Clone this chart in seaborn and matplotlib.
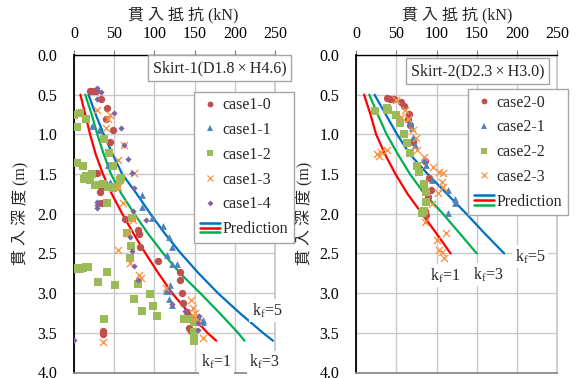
import matplotlib
matplotlib.use("Agg")
import numpy as np
import pandas as pd
import seaborn as sns
import matplotlib.pyplot as plt
from matplotlib.lines import Line2D
from matplotlib.legend_handler import HandlerBase

# ---------------- data: Skirt-1 ----------------
case1_0_x = [20, 24, 27, 34, 41, 40, 49, 45, 29, 34, 32, 33, 63, 80, 81, 82, 105, 132, 132, 134, 136, 140, 144, 143, 146, 36, 36]
case1_0_y = [0.45, 0.45, 0.45, 0.55, 0.67, 0.80, 0.95, 1.09, 1.49, 1.66, 1.72, 1.87, 2.07, 2.20, 2.25, 2.42, 2.60, 2.74, 2.83, 3.00, 3.12, 3.24, 3.30, 3.44, 3.48, 3.48, 3.52]

case1_1_x = [22, 31.5, 42.5, 44.5, 84, 85, 97.5, 111, 118, 122.5, 116, 122.5, 127.5, 119, 114, 118, 122.5, 154.5, 160, 160.5]
case1_1_y = [0.90, 0.95, 1.39, 1.60, 1.77, 1.91, 2.05, 2.15, 2.29, 2.42, 2.52, 2.63, 2.63, 2.90, 2.97, 3.07, 3.15, 3.30, 3.34, 3.37]

case1_2_x = [0, 7.5, 15, 4, 37, 44, 49, 4, 11, 15, 23, 12, 20, 26, 36, 42, 49, 57, 54, 59, 40.5, 72, 66, 71.5, 70,
             0, 3, 7, 11, 15, 18, 41, 30, 51.5, 80, 95, 75, 98.5, 85, 103.5, 37.5, 137, 143, 149, 149, 149, 149]
case1_2_y = [0.75, 0.73, 0.80, 0.91, 1.06, 1.23, 1.40, 1.36, 1.40, 1.53, 1.50, 1.56, 1.58, 1.64, 1.62, 1.66, 1.68, 1.58, 1.66, 1.55, 1.87, 2.05, 2.24, 2.41, 2.56,
             2.70, 2.68, 2.69, 2.68, 2.67, 2.67, 2.73, 2.86, 2.90, 2.88, 3.01, 3.08, 3.16, 3.23, 3.29, 3.33, 3.33, 3.33, 3.36, 3.49, 3.55, 3.60]

case1_3_x = [29, 42.5, 44.5, 39.5, 62.5, 55, 74.5, 55, 60.5, 73.5, 67.5, 55, 69.5, 81, 83, 114, 146, 148, 150, 151, 154, 161, 36]
case1_3_y = [0.69, 0.80, 0.755, 0.92, 1.13, 1.32, 1.49, 1.66, 1.86, 2.08, 2.24, 2.46, 2.62, 2.77, 2.81, 2.94, 3.09, 3.19, 3.25, 3.30, 3.36, 3.57, 3.61]

case1_4_x = [28, 33, 28, 49.5, 59, 62.5, 67.5, 72, 75, 28, 28, 29, 73.5, 89, 69.5, 72.5, 74.5, 80, 119, 122.5, 138, 155.5, 154.5, 154.5, 0]
case1_4_y = [0.41, 0.47, 0.56, 0.735, 0.92, 1.13, 1.31, 1.49, 1.67, 1.85, 1.89, 1.93, 1.96, 2.08, 2.29, 2.47, 2.66, 2.83, 2.99, 3.14, 3.23, 3.29, 3.38, 3.46, 3.59]

pred1_y = [0.5, 0.75, 1.0, 1.25, 1.5, 1.75, 2.0, 2.25, 2.5, 2.75, 3.0, 3.25, 3.5, 3.6]
pred1_kf1 = [8, 14, 20, 27, 36, 47, 60, 74, 89, 105, 122, 143, 166, 177]
pred1_kf3 = [14, 22, 29, 37, 46, 59, 75, 92, 111, 132, 157, 181, 204, 212]
pred1_kf5 = [18, 27, 37, 48, 60, 78, 95, 113, 133, 155, 179, 206, 235, 247.5]

# ---------------- data: Skirt-2 ----------------
case2_0_x = [38, 42, 47, 55.5, 60, 66, 65, 67, 71, 86, 91, 93, 90, 86, 87]
case2_0_y = [0.545, 0.55, 0.55, 0.59, 0.64, 0.74, 0.80, 0.88, 1.09, 1.33, 1.55, 1.70, 1.79, 1.96, 2.02]

case2_1_x = [67, 69, 71, 73, 84.5, 86.5, 94, 114.5, 123, 123, 114]
case2_1_y = [0.85, 0.92, 1.03, 1.13, 1.31, 1.39, 1.57, 1.70, 1.81, 1.86, 1.99]

case2_2_x = [24, 38, 40, 50, 54.5, 59, 63, 67, 75.5, 78.5, 85, 87.5, 87.5, 84.5, 82]
case2_2_y = [0.71, 0.67, 0.69, 0.76, 0.86, 1.00, 1.11, 1.24, 1.40, 1.48, 1.63, 1.72, 1.85, 1.96, 1.99]

case2_3_x = [49.5, 56.5, 60.5, 65, 71, 74, 76, 84.5, 96, 103.5, 108.5, 106.5, 25.5, 28.5, 30.5, 38.5,
             108.5, 102, 94, 86, 112, 101, 103.5, 106.5, 109]
case2_3_y = [0.57, 0.78, 0.69, 0.81, 0.94, 1.05, 1.20, 1.28, 1.41, 1.47, 1.49, 1.60, 1.25, 1.27, 1.22, 1.20,
             1.66, 1.74, 1.88, 2.10, 2.24, 2.33, 2.46, 2.48, 2.56]

pred2_y = [0.5, 0.75, 1.0, 1.25, 1.5, 1.75, 2.0, 2.25, 2.5]
pred2_kf1 = [10, 18, 25, 36, 49, 64, 82, 100, 117.5]
pred2_kf3 = [16.5, 27, 38, 52, 67, 85, 108, 129, 150]
pred2_kf5 = [23, 37, 51, 67, 89, 113, 137, 160, 184]

x_ticks = [0, 50, 100, 150, 200, 250]
y_ticks = [0.0, 0.5, 1.0, 1.5, 2.0, 2.5, 3.0, 3.5, 4.0]

# ---------------- styling ----------------
sns.set_theme(style="white")
plt.rcParams["font.family"] = ["Liberation Serif", "Noto Sans CJK JP"]
plt.rcParams["mathtext.default"] = "regular"

C_RED = "#C0504D"
C_BLUE = "#4F81BD"
C_GREEN = "#9BBB59"
C_ORANGE = "#F79646"
C_PURPLE = "#8064A2"
L_RED, L_GREEN, L_BLUE = "#FF0000", "#00B050", "#0070C0"

FS = 11.5
W, H = 579, 378
fig = plt.figure(figsize=(W / 100, H / 100), dpi=100)
fig.patch.set_facecolor("white")

ax_top, ax_bot = 55, 372.5
axL = fig.add_axes([74 / W, 1 - ax_bot / H, 201 / W, (ax_bot - ax_top) / H])
axR = fig.add_axes([356 / W, 1 - ax_bot / H, 201.3 / W, (ax_bot - ax_top) / H])

marker_styles = [
    dict(marker="o", color=C_RED, s=28, linewidth=0),
    dict(marker="^", color=C_BLUE, s=24, linewidth=0),
    dict(marker="s", color=C_GREEN, s=28, linewidth=0),
    dict(marker="x", color=C_ORANGE, s=26, linewidth=1.0),
    dict(marker="D", color=C_PURPLE, s=10, linewidth=0),
]


def draw_panel(ax, series, preds, pred_y, xlab_x, ylab_x):
    for (xs, ys), st in zip(series, marker_styles):
        sns.scatterplot(x=xs, y=ys, ax=ax, legend=False, zorder=3, **st)
    for xs, col in zip(preds, [L_RED, L_GREEN, L_BLUE]):
        sns.lineplot(x=xs, y=pred_y, ax=ax, sort=False, estimator=None,
                     color=col, linewidth=1.6, legend=False, zorder=2)
    ax.set_xlim(0, 250)
    ax.set_ylim(4.0, 0.0)
    ax.set_xticks(x_ticks)
    ax.set_yticks(y_ticks)
    ax.set_xticklabels([str(v) for v in x_ticks], fontsize=FS)
    ax.set_yticklabels([f"{v:.1f}" for v in y_ticks], fontsize=FS)
    ax.xaxis.tick_top()
    ax.xaxis.set_label_position("top")
    ax.tick_params(direction="out", length=3.5, width=0.8, color="#7f7f7f", colors="black")
    ax.tick_params(axis="y", pad=8.5, color="#7f7f7f")
    ax.tick_params(axis="x", pad=6, color="#7f7f7f")
    ax.grid(True, color="#c8c8c8", linewidth=1.0)
    ax.set_axisbelow(True)
    ax.spines["left"].set_color("black")
    ax.spines["left"].set_linewidth(1.3)
    ax.spines["top"].set_color("black")
    ax.spines["top"].set_linewidth(1.0)
    ax.spines["right"].set_color("#c8c8c8")
    ax.spines["bottom"].set_color("#8c8c8c")
    ax.spines["bottom"].set_linewidth(1.3)
    ax.set_xlabel("貫 入 抵 抗 (kN)", fontsize=FS, va="center")
    ax.set_ylabel("貫 入 深 度 (m)", fontsize=FS, va="center")
    ax.xaxis.set_label_coords(xlab_x, 1 + 40 / (ax_bot - ax_top))
    ax.yaxis.set_label_coords(ylab_x, 0.5)


draw_panel(axL,
           [(case1_0_x, case1_0_y), (case1_1_x, case1_1_y), (case1_2_x, case1_2_y),
            (case1_3_x, case1_3_y), (case1_4_x, case1_4_y)],
           [pred1_kf1, pred1_kf3, pred1_kf5], pred1_y,
           (183 - 74) / 201, (21 - 74) / 201)
draw_panel(axR,
           [(case2_0_x, case2_0_y), (case2_1_x, case2_1_y), (case2_2_x, case2_2_y),
            (case2_3_x, case2_3_y)],
           [pred2_kf1, pred2_kf3, pred2_kf5], pred2_y,
           (457 - 356) / 201.3, (305 - 356) / 201.3)

# k_f labels next to the prediction curves
kf_box = dict(boxstyle="square,pad=0.15", fc="white", ec="none")
for ax, items in [
    (axL, [("k$_{f}$=5", 240, 3.22), ("k$_{f}$=1", 177, 3.87), ("k$_{f}$=3", 237, 3.87)]),
    (axR, [("k$_{f}$=5", 216, 2.54), ("k$_{f}$=3", 164, 2.77), ("k$_{f}$=1", 111, 2.78)]),
]:
    for txt, x, y in items:
        ax.text(x, y, txt, fontsize=FS, ha="center", va="center", bbox=kf_box,
                clip_on=False, zorder=4)


class TripleLine:
    def __init__(self, colors):
        self.colors = colors


class TripleLineHandler(HandlerBase):
    def create_artists(self, legend, orig_handle, xdescent, ydescent, width, height, fontsize, trans):
        arts = []
        mid = (height - ydescent) / 2
        for i, c in enumerate(orig_handle.colors):
            y = mid + (1 - i) * 0.42 * height
            ln = Line2D([-xdescent, width - xdescent], [y, y], color=c, linewidth=1.8)
            ln.set_transform(trans)
            arts.append(ln)
        return arts


def make_legend(labels, n, anchor):
    handles = []
    for st in marker_styles[:n]:
        handles.append(Line2D([], [], linestyle="none", marker=st["marker"], color=st["color"],
                              markersize=4.2 if st["marker"] != "D" else 3.0,
                              markeredgewidth=0.9 if st["marker"] == "x" else 0))
    handles.append(TripleLine([L_BLUE, L_RED, L_GREEN]))
    leg = fig.legend(handles, labels + ["Prediction"], loc="upper left",
                     bbox_to_anchor=anchor, bbox_transform=fig.transFigure,
                     frameon=True, fancybox=False, framealpha=1, edgecolor="#a6a6a6",
                     fontsize=FS, handlelength=1.3, handletextpad=0.15, borderpad=0.35,
                     labelspacing=0.55, borderaxespad=0,
                     handler_map={TripleLine: TripleLineHandler()})
    leg.get_frame().set_linewidth(1.0)
    leg.set_zorder(5)
    return leg


make_legend(["case1-0", "case1-1", "case1-2", "case1-3", "case1-4"], 5, (194 / W, 1 - 91.7 / H))
make_legend(["case2-0", "case2-1", "case2-2", "case2-3"], 4, (468 / W, 1 - 89 / H))

title_box = dict(boxstyle="square,pad=0.3", fc="white", ec="#a6a6a6", lw=1.0)
fig.text(219.5 / W, 1 - 68 / H, "Skirt-1(D1.8\u2009×\u2009H4.6)", ha="center", va="center",
         fontsize=FS, bbox=title_box, zorder=6)
fig.text(477.5 / W, 1 - 71 / H, "Skirt-2(D2.3\u2009×\u2009H3.0)", ha="center", va="center",
         fontsize=FS, bbox=title_box, zorder=6)

fig.savefig("out.png", dpi=100, facecolor="white")
